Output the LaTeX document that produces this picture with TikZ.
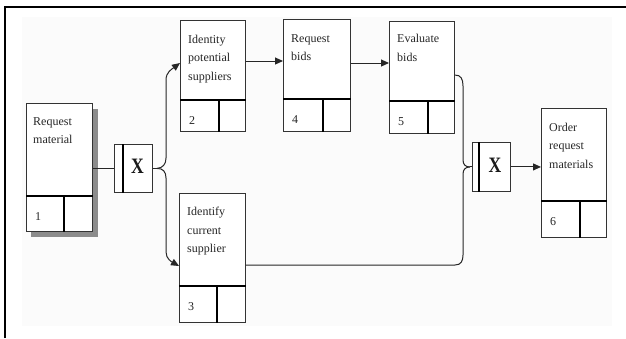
\documentclass[tikz,border=0pt]{standalone}
\usepackage{fontspec}
\usepackage{graphicx}
\setmainfont{Liberation Serif}
\usetikzlibrary{arrows.meta,calc}
\begin{document}
\begin{tikzpicture}[x=1pt,y=-1pt,
  box/.style={draw=black!80,line width=0.9pt,fill=white,anchor=north west,inner sep=0pt},
  div/.style={line width=2pt,black},
  lbl/.style={anchor=base west,font=\fontsize{12}{18.7}\selectfont,align=left,inner sep=0pt,text=black!85},
  num/.style={anchor=base west,font=\fontsize{12}{14}\selectfont,inner sep=0pt,text=black!85},
  xlbl/.style={font=\fontsize{22}{24}\selectfont\bfseries,inner sep=0pt,text=black!90},
  conn/.style={line width=1pt,black!85},
  arr/.style={conn,-{Triangle[length=8pt,width=7pt]}},
  frame/.style={line width=2pt,black}
]
\useasboundingbox (0,0) rectangle (626,338);
\fill[white] (0,0) rectangle (626,338);
\fill[black!1.5] (22,17) rectangle (612,326);
\draw[frame] (4.5,338) -- (4.5,7) -- (626,7);

% shadow of box 1
\fill[black!45] (31,109) rectangle (98,237);

% activity boxes
\node[box,minimum width=66,minimum height=128] (b1) at (26,103) {};
\node[box,minimum width=65,minimum height=111] (b2) at (180,20) {};
\node[box,minimum width=67,minimum height=112] (b4) at (283,19) {};
\node[box,minimum width=65,minimum height=112] (b5) at (389,21) {};
\node[box,minimum width=65,minimum height=129] (b6) at (541,108) {};
\node[box,minimum width=66,minimum height=129] (b3) at (179,193) {};

% dividers
\draw[div] (b1.west |- 0,196) -- (b1.east |- 0,196);
\draw[div] (64,196) -- (b1.south -| 64,0);
\draw[div] (b2.west |- 0,100) -- (b2.east |- 0,100);
\draw[div] (219,100) -- (b2.south -| 219,0);
\draw[div] (b4.west |- 0,99) -- (b4.east |- 0,99);
\draw[div] (323,99) -- (b4.south -| 323,0);
\draw[div] (b5.west |- 0,101) -- (b5.east |- 0,101);
\draw[div] (428,101) -- (b5.south -| 428,0);
\draw[div] (b6.west |- 0,201) -- (b6.east |- 0,201);
\draw[div] (580,201) -- (b6.south -| 580,0);
\draw[div] (b3.west |- 0,286) -- (b3.east |- 0,286);
\draw[div] (217,286) -- (b3.south -| 217,0);

% labels (anchor = baseline of last line)
\node[lbl] (t1) at (33,143.7) {Request\\material};
\node[lbl] (t2) at (188,80.4) {Identity\\potential\\suppliers};
\node[lbl] (t4) at (291,60.7) {Request\\bids};
\node[lbl] (t5) at (397,61.2) {Evaluate\\bids};
\node[lbl] (t6) at (549,168.4) {Order\\request\\materials};
\node[lbl] (t3) at (187,252.9) {Identify\\current\\supplier};

% numbers
\node[num] (n1) at (35,220) {1};
\node[num] (n2) at (189,124) {2};
\node[num] (n4) at (292,123) {4};
\node[num] (n5) at (398,125) {5};
\node[num] (n6) at (550,225) {6};
\node[num] (n3) at (188,310) {3};

% junctions
\node[box,minimum width=38,minimum height=48] (x1) at (114,144) {};
\draw[div] (123,144) -- (x1.south -| 123,0);
\node[xlbl] (x1t) at (137.5,166.5) {\scalebox{0.8}[1]{X}};
\node[box,minimum width=38,minimum height=49] (x2) at (472,142) {};
\draw[div] (479,142) -- (x2.south -| 479,0);
\node[xlbl] (x2t) at (495,165.5) {\scalebox{0.8}[1]{X}};

\coordinate (j1) at ($(x1.east)+(4,0)$);
\coordinate (j2) at ($(x2.west)+(-2,0)$);

% connectors
\draw[conn] (b1.east |- x1.west) -- (x1.west);
\draw[conn] (x1.east) -- (j1);
\draw[arr] (j1) .. controls (163,168) and (166,164) .. (166,158) -- (166,80)
  .. controls (166,72) and (172,69) .. (b2.west |- 0,63);
\draw[arr] (j1) .. controls (163,168) and (166,172) .. (166,178) -- (166,252)
  .. controls (166,259) and (172,262) .. (b3.west |- 0,266);
\draw[arr] (b2.east |- 0,61) -- (b4.west |- 0,61);
\draw[arr] (b4.east |- 0,63) -- (b5.west |- 0,63);
\draw[conn] (b5.east |- 0,75) .. controls (461,75) and (463,79) .. (463,86) -- (463,160)
  .. controls (463,165) and (466,167) .. (j2);
\draw[conn] (b3.east |- 0,265) -- (455,265) .. controls (461,265) and (463,261) .. (463,255)
  -- (463,174) .. controls (463,169) and (466,167) .. (j2);
\draw[conn] (j2) -- (x2.west);
\draw[arr] (x2.east) -- (b6.west |- x2.east);
\end{tikzpicture}
\end{document}
